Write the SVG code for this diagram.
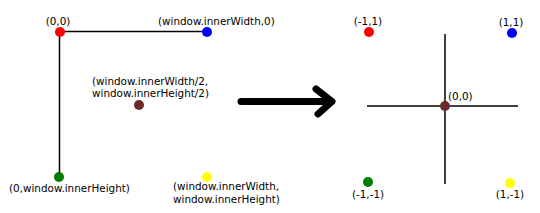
<svg xmlns="http://www.w3.org/2000/svg" width="540" height="213" viewBox="0 0 540 213">
<style>
text{font-family:"DejaVu Sans","Noto Sans",sans-serif;font-size:10.4px;fill:#000}
.ax{stroke:#000;stroke-width:1.5;fill:none}
.c{text-anchor:middle}
</style>
<rect width="540" height="213" fill="#fff"/>
<g id="connectors">
<line class="ax" x1="60" y1="31.5" x2="207" y2="31.5"/>
<line class="ax" x1="59.5" y1="32" x2="59.5" y2="177"/>
<line class="ax" x1="445" y1="34" x2="445" y2="184"/>
<line class="ax" x1="367" y1="106" x2="518" y2="106"/>
<path d="M241 101.5H329M316 89L332 101.5L318 114" fill="none" stroke="#000" stroke-width="7" stroke-linecap="round" stroke-linejoin="round"/>
</g>
<g id="tl"><circle cx="60" cy="32" r="5" fill="#f00"/><text x="58" y="25" class="c">(0,0)</text></g>
<g id="tr"><circle cx="207" cy="32" r="5" fill="#00f"/><text x="158" y="25">(window.innerWidth,0)</text></g>
<g id="center"><circle cx="139" cy="105" r="5" fill="#6b2a2a"/><text x="92" y="85">(window.innerWidth/2,</text><text x="92" y="97">window.innerHeight/2)</text></g>
<g id="bl"><circle cx="59" cy="177" r="5" fill="#007c00"/><text x="9" y="192">(0,window.innerHeight)</text></g>
<g id="br"><circle cx="207" cy="177" r="5" fill="#ff0"/><text x="173" y="190">(window.innerWidth,</text><text x="173" y="203">window.innerHeight)</text></g>
<g id="ntl"><circle cx="369" cy="32" r="5" fill="#f00"/><text x="368" y="25" class="c">(-1,1)</text></g>
<g id="ntr"><circle cx="512" cy="33" r="5" fill="#00f"/><text x="511" y="26" class="c">(1,1)</text></g>
<g id="norigin"><circle cx="445" cy="106" r="5" fill="#6b2a2a"/><text x="448" y="100">(0,0)</text></g>
<g id="nbl"><circle cx="368" cy="182" r="5" fill="#007c00"/><text x="368" y="198" class="c">(-1,-1)</text></g>
<g id="nbr"><circle cx="510" cy="183" r="5" fill="#ff0"/><text x="510" y="198" class="c">(1,-1)</text></g>
</svg>
